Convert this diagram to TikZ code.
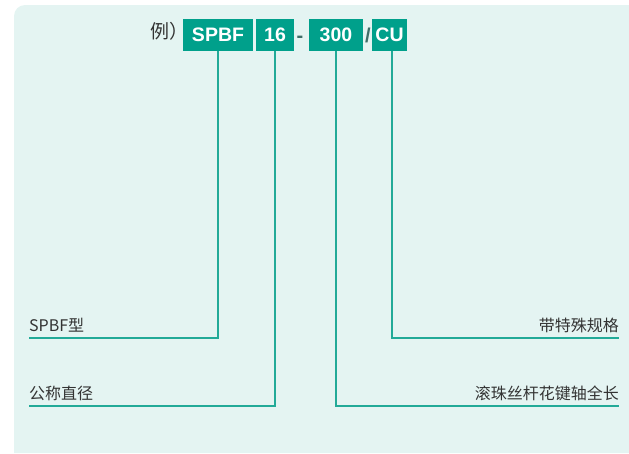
\documentclass[tikz,border=0pt]{standalone}
\usepackage{fontspec}
\setmainfont{Liberation Sans}
\newfontfamily\cjk{Noto Sans CJK SC}
\usepackage{tikz}
\usetikzlibrary{positioning}

\definecolor{panelbg}{HTML}{E4F4F2}
\definecolor{codeteal}{HTML}{00A08B}
\definecolor{leadteal}{HTML}{22AA98}
\definecolor{labelgray}{HTML}{333333}
\definecolor{sepgray}{HTML}{3E6E68}

\tikzset{
    codebox/.style={fill=codeteal, text=white, font=\fontsize{19.5}{21}\selectfont\bfseries,
        minimum height=32pt, inner sep=0pt},
    sepmark/.style={text=sepgray, font=\fontsize{20}{21}\selectfont\bfseries, inner sep=0pt},
    callout/.style={text=labelgray, font=\cjk\fontsize{16}{18}\selectfont, inner sep=0pt},
    leader/.style={draw=leadteal, line width=1.6pt}
}

\begin{document}
\begin{tikzpicture}[x=1pt,y=-1pt]
\useasboundingbox (0,0) rectangle (629,453);
\fill[panelbg] (14,453) [rounded corners=11pt] -- (14,5) [sharp corners] -- (629,5) -- (629,453) -- cycle;

% code boxes
\node[callout, font=\cjk\fontsize{19}{21}\selectfont, anchor=west] (ex) at (150,31.5) {例）};
\node[codebox, minimum width=70pt] (series) at (218,35) {SPBF};
\node[codebox, minimum width=38pt] (dia) at (275,35) {16};
\node[sepmark, anchor=base] (dash) at (300,42.5) {-};
\node[codebox, minimum width=54pt] (len) at (336,35) {300};
\node[sepmark, anchor=base] (slash) at (368,42.5) {/};
\node[codebox, minimum width=35pt] (spec) at (389.5,35) {CU};

% leader ends
\coordinate (seriesend) at (29,338);
\coordinate (diaend) at (29,406);
\coordinate (lenend) at (619,406);
\coordinate (specend) at (619,338);

\draw[leader] (series.south) |- (seriesend);
\draw[leader] (dia.south) |- (diaend);
\draw[leader] (len.south) |- (lenend);
\draw[leader] ([xshift=2.5pt]spec.south) |- (specend);

% labels
\node[callout, anchor=base west] (serieslbl) at (29,331) {SPBF型};
\node[callout, anchor=base west] (dialbl) at (29,399.5) {公称直径};
\node[callout, anchor=base east] (lenlbl) at (619,399.5) {滚珠丝杆花键轴全长};
\node[callout, anchor=base east] (speclbl) at (619,331) {带特殊规格};
\end{tikzpicture}
\end{document}
